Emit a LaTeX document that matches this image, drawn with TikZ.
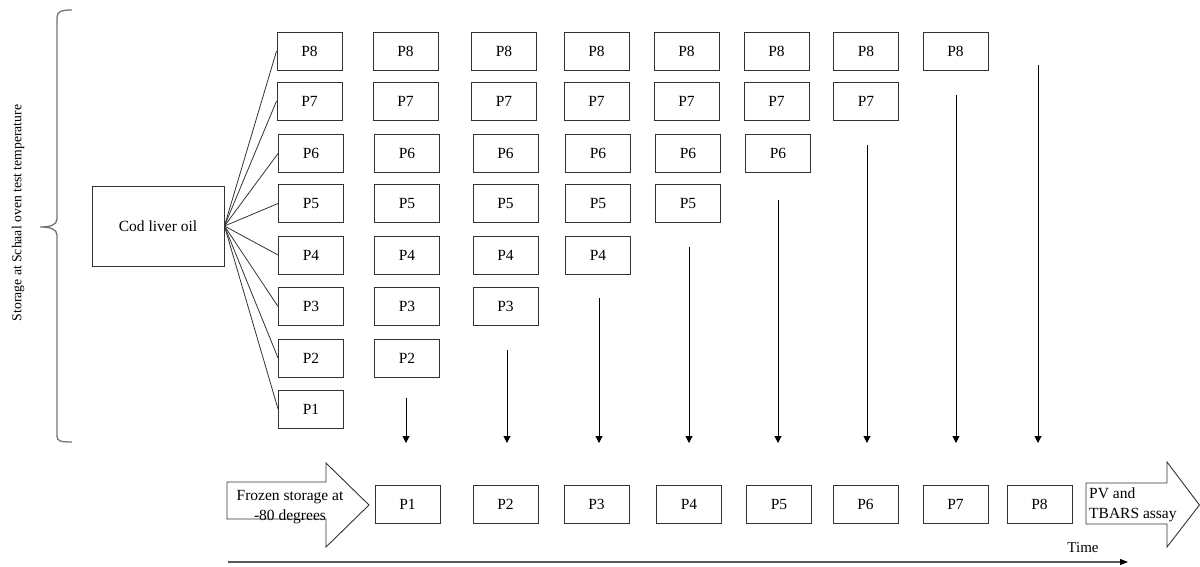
\documentclass[tikz,border=0pt]{standalone}
\usepackage{fontspec}
\setmainfont{Liberation Serif}
\usetikzlibrary{arrows.meta}
\begin{document}
\begin{tikzpicture}[x=1pt,y=-1pt,
  pbox/.style={draw=black!80, line width=0.9pt, minimum width=65pt, minimum height=38pt, inner sep=0pt, font=\fontsize{15.5}{18}\selectfont},
  codbox/.style={draw=black!80, line width=0.9pt, minimum width=132pt, minimum height=80pt, inner sep=0pt, font=\fontsize{15.5}{18}\selectfont},
  fan/.style={draw=black!80, line width=0.8pt},
  down/.style={draw=black, line width=1pt, -{Triangle[width=7pt,length=7pt]}},
  timeline/.style={draw=black!65, line width=1.2pt, -{Triangle[width=6pt,length=8pt,fill=black,color=black]}},
  bigarrow/.style={draw=black!80, line width=0.9pt, fill=white},
  lbl/.style={inner sep=0pt, font=\fontsize{15.5}{20}\selectfont},
  bracestyle/.style={draw=black!55, line width=1.3pt}
]
\useasboundingbox (0,0) rectangle (1200,566);

% brace and vertical label
\draw[bracestyle] (72,10) .. controls (60,10) and (57,12) .. (57,18)
  -- (57,219) .. controls (57,225) and (50,227) .. (40,227)
  .. controls (50,227) and (57,229) .. (57,235)
  -- (57,436) .. controls (57,441) and (60,442) .. (72,442);
\node[rotate=90, inner sep=0pt, font=\fontsize{13.7}{16}\selectfont] (storage) at (18,213) {Storage at Schaal oven test temperature};

% source box
\node[codbox] (cod) at (158,226) {Cod liver oil};

% grid of boxes
\foreach \c/\cx in {1/309.5,2/405.5,3/504,4/596.5,5/686.5,6/776.5,7/866,8/955.5} {
  \foreach \r/\ry in {8/51,7/101,6/153.5,5/203.5,4/255,3/306.5,2/358,1/409} {
    \ifnum\r<\c\relax\else
      \pgfmathsetmacro{\xx}{\cx+(\r<7?1.5:0)}
      \node[pbox] (c\c r\r) at (\xx,\ry) {P\r};
    \fi
  }
}

% fan connectors
\foreach \r in {1,...,8} \draw[fan] (cod.east) -- (c1r\r.west);

% downward arrows
\foreach \i/\ax/\ay in {2/406/398,3/507/350,4/599/298,5/689/247,6/778/200,7/867/145,8/956/95,9/1038/65} {
  \coordinate (s\i) at (\ax,\ay);
  \coordinate (e\i) at (\ax,443);
  \draw[down] (s\i) -- (e\i);
}

% bottom row
\foreach \i/\bx in {1/407.5,2/505.5,3/596.5,4/689,5/779,6/865.5,7/955.5,8/1039.5}
  \node[pbox] (b\i) at (\bx,504) {P\i};

% frozen storage arrow
\draw[bigarrow] (227,482) -- (326,482) -- (326,463) -- (369,505) -- (326,547) -- (326,519) -- (227,519) -- cycle;
\node[lbl, align=center] (frozen) at (290,507) {Frozen storage at\\-80 degrees};

% PV arrow
\draw[bigarrow] (1086,483) -- (1167,483) -- (1167,462) -- (1199.4,505) -- (1167,547) -- (1167,524) -- (1086,524) -- cycle;
\node[lbl, align=left, anchor=west] (pv) at (1089,505) {PV and\\TBARS assay};

% time axis
\coordinate (t0) at (228,562);
\coordinate (t1) at (1128,562);
\draw[timeline] (t0) -- (t1);
\node[inner sep=0pt, font=\fontsize{15}{18}\selectfont] (time) at (1083,548) {Time};
\end{tikzpicture}
\end{document}
